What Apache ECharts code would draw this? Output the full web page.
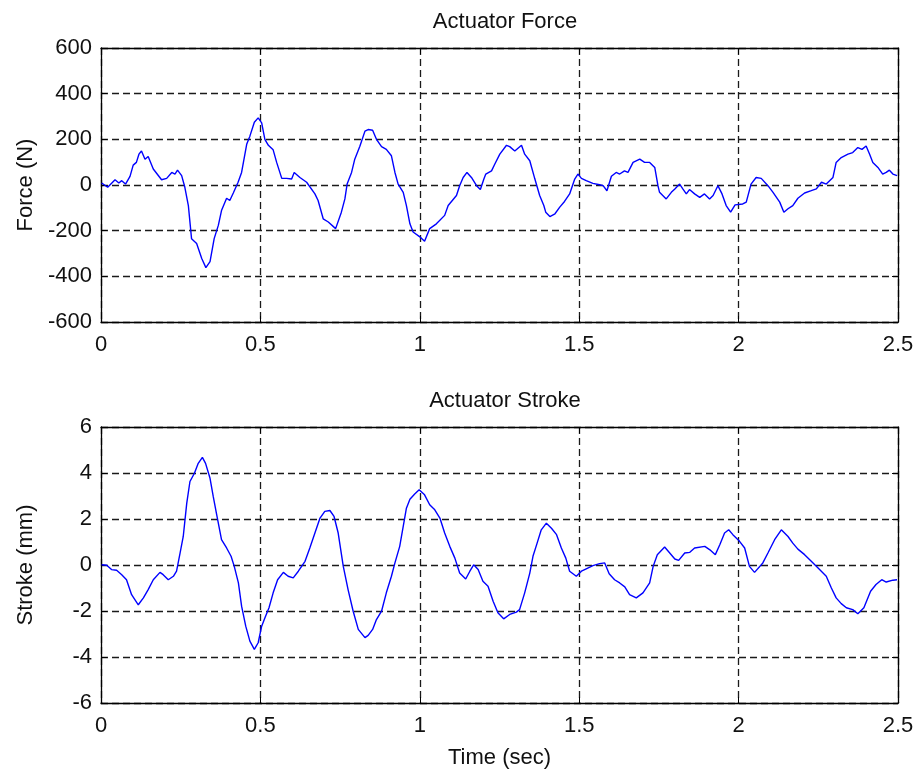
<!DOCTYPE html>
<html>
<head>
<meta charset="utf-8">
<script src="https://cdn.jsdelivr.net/npm/echarts@6/dist/echarts.min.js"></script>
<style>
html,body{margin:0;padding:0;background:#fff;}
#c{width:918px;height:777px;}
</style>
</head>
<body>
<div id="c"></div>
<script>
// ---- Data ----
const xTicks = [0, 0.5, 1, 1.5, 2, 2.5];
const forceTicks = [-600, -400, -200, 0, 200, 400, 600];
const strokeTicks = [-6, -4, -2, 0, 2, 4, 6];

const forceTime = [0.002,0.021,0.044,0.056,0.065,0.077,0.091,0.101,0.111,0.119,0.127,0.138,0.148,0.164,0.190,0.206,0.222,0.232,0.240,0.253,0.263,0.274,0.284,0.300,0.316,0.329,0.342,0.355,0.368,0.378,0.394,0.404,0.415,0.430,0.441,0.457,0.467,0.481,0.493,0.504,0.514,0.525,0.540,0.551,0.567,0.582,0.598,0.606,0.624,0.645,0.671,0.681,0.697,0.713,0.736,0.754,0.765,0.772,0.786,0.796,0.812,0.828,0.838,0.852,0.864,0.880,0.895,0.911,0.922,0.932,0.948,0.958,0.969,0.979,1.000,1.015,1.031,1.052,1.078,1.089,1.115,1.125,1.136,1.148,1.162,1.178,1.190,1.201,1.207,1.225,1.235,1.251,1.272,1.282,1.298,1.319,1.329,1.345,1.361,1.376,1.389,1.395,1.408,1.424,1.439,1.454,1.470,1.486,1.496,1.507,1.522,1.543,1.564,1.575,1.587,1.601,1.616,1.627,1.642,1.653,1.669,1.690,1.705,1.721,1.737,1.747,1.752,1.773,1.789,1.800,1.815,1.825,1.836,1.846,1.862,1.878,1.893,1.909,1.920,1.935,1.948,1.961,1.975,1.989,2.013,2.024,2.039,2.055,2.071,2.092,2.108,2.129,2.142,2.155,2.170,2.186,2.207,2.228,2.244,2.260,2.275,2.296,2.306,2.322,2.343,2.358,2.374,2.387,2.400,2.411,2.421,2.437,2.452,2.463,2.473,2.484,2.497];
const forceVals = [9,-10,23,9,19,4,38,87,99,135,149,113,125,70,23,29,55,48,65,41,-10,-90,-235,-256,-322,-362,-336,-235,-177,-112,-58,-68,-35,12,55,178,214,275,294,272,200,174,154,99,29,29,26,55,33,12,-39,-68,-148,-162,-191,-119,-61,4,55,113,170,236,243,240,200,168,156,128,55,4,-32,-90,-170,-206,-227,-246,-191,-170,-133,-90,-46,-3,33,55,33,-3,-20,26,48,62,91,135,174,168,149,174,135,106,26,-46,-90,-119,-138,-126,-97,-72,-39,26,48,29,19,7,1,-3,-25,38,55,48,62,55,99,113,99,99,77,-3,-32,-61,-32,-17,4,-17,-39,-20,-39,-54,-39,-61,-46,-3,-39,-90,-119,-87,-83,-75,4,33,29,-3,-32,-75,-119,-104,-90,-58,-35,-25,-17,12,4,33,99,120,135,142,164,156,171,135,99,77,48,55,65,48,41];

const strokeTime = [0.002,0.018,0.033,0.049,0.065,0.080,0.096,0.117,0.133,0.148,0.164,0.185,0.195,0.211,0.227,0.237,0.248,0.258,0.269,0.279,0.293,0.305,0.318,0.328,0.342,0.352,0.363,0.378,0.394,0.408,0.418,0.431,0.441,0.454,0.467,0.481,0.493,0.504,0.514,0.527,0.540,0.554,0.572,0.587,0.603,0.619,0.640,0.655,0.671,0.687,0.702,0.718,0.731,0.744,0.760,0.775,0.791,0.807,0.828,0.838,0.852,0.864,0.880,0.895,0.911,0.922,0.937,0.948,0.958,0.969,0.984,0.998,1.015,1.031,1.047,1.063,1.078,1.094,1.110,1.125,1.144,1.157,1.169,1.183,1.198,1.214,1.230,1.245,1.263,1.282,1.303,1.313,1.329,1.345,1.355,1.368,1.381,1.397,1.413,1.429,1.444,1.458,1.470,1.491,1.507,1.522,1.543,1.564,1.580,1.594,1.611,1.627,1.643,1.658,1.679,1.700,1.721,1.732,1.745,1.768,1.784,1.800,1.812,1.831,1.847,1.862,1.894,1.910,1.927,1.941,1.956,1.969,1.982,2.003,2.019,2.034,2.050,2.076,2.092,2.113,2.134,2.155,2.170,2.186,2.207,2.228,2.254,2.275,2.291,2.306,2.322,2.338,2.358,2.374,2.393,2.414,2.431,2.449,2.463,2.484,2.497];
const strokeVals = [0.01,-0.01,-0.2,-0.23,-0.42,-0.64,-1.29,-1.73,-1.43,-1.07,-0.64,-0.32,-0.42,-0.64,-0.49,-0.27,0.52,1.24,2.69,3.63,3.99,4.42,4.68,4.42,3.77,2.98,2.18,1.10,0.74,0.38,-0.06,-0.78,-1.79,-2.66,-3.31,-3.67,-3.38,-2.66,-2.30,-1.86,-1.21,-0.64,-0.32,-0.49,-0.56,-0.27,0.16,0.74,1.39,2.04,2.33,2.37,2.11,1.39,-0.06,-1.07,-2.01,-2.80,-3.16,-3.06,-2.80,-2.37,-2.01,-1.21,-0.49,0.09,0.81,1.68,2.47,2.86,3.09,3.27,3.05,2.62,2.40,2.04,1.39,0.81,0.30,-0.35,-0.61,-0.27,0.01,-0.20,-0.71,-0.92,-1.58,-2.08,-2.34,-2.15,-2.05,-1.94,-1.21,-0.35,0.38,0.95,1.53,1.82,1.60,1.32,0.74,0.30,-0.27,-0.49,-0.27,-0.17,-0.03,0.06,0.09,-0.38,-0.64,-0.78,-0.95,-1.29,-1.43,-1.21,-0.78,-0.06,0.45,0.78,0.52,0.26,0.20,0.52,0.55,0.74,0.81,0.66,0.45,0.88,1.39,1.53,1.32,1.03,0.74,-0.06,-0.32,0.09,0.52,1.10,1.53,1.24,0.95,0.69,0.45,0.16,-0.20,-0.49,-1.00,-1.43,-1.68,-1.86,-1.94,-2.12,-1.86,-1.14,-0.85,-0.64,-0.74,-0.66,-0.64];

const titles = ['Actuator Force', 'Actuator Stroke'];
const yNames = ['Force (N)', 'Stroke (mm)'];
const xName = 'Time (sec)';

// ---- Chart ----
const FONT = "'Liberation Sans', Arial, sans-serif";
const TXT = '#111';
const fs = 22;
const pairs = (t, v) => t.map((x, i) => [x, v[i]]);

const grids = [
  {left: 101, top: 48, width: 797, height: 274},
  {left: 101, top: 427, width: 797, height: 276}
];
const yRanges = [forceTicks, strokeTicks];

const xAxes = [], yAxes = [];
const dashStyle = {color: '#1a1a1a', width: 1.3, type: [7, 4]};
const frame = {color: '#000', width: 1.3};
for (let g = 0; g < 2; g++) {
  const xmin = xTicks[0], xmax = xTicks[xTicks.length - 1];
  const xint = xTicks[1] - xTicks[0];
  xAxes.push({
    type: 'value', gridIndex: g, min: xmin, max: xmax, interval: xint,
    position: 'bottom',
    name: g === 1 ? xName : '', nameLocation: 'middle', nameGap: 44,
    nameTextStyle: {fontFamily: FONT, fontSize: fs, color: TXT},
    axisLine: {show: true, onZero: false, lineStyle: frame},
    axisTick: {show: true, inside: true, length: 6, lineStyle: {color: '#000'}},
    axisLabel: {fontFamily: FONT, fontSize: fs, color: TXT, margin: 12,
      formatter: v => String(v)},
    splitLine: {show: true, lineStyle: dashStyle}
  });
  xAxes.push({
    type: 'value', gridIndex: g, min: xmin, max: xmax, interval: xint,
    position: 'top',
    axisLine: {show: true, onZero: false, lineStyle: frame},
    axisTick: {show: true, inside: true, length: 6, lineStyle: {color: '#000'}},
    axisLabel: {show: false}, splitLine: {show: false}
  });
  const yt = yRanges[g];
  const ymin = yt[0], ymax = yt[yt.length - 1], yint = yt[1] - yt[0];
  yAxes.push({
    type: 'value', gridIndex: g, min: ymin, max: ymax, interval: yint,
    position: 'left',
    name: yNames[g], nameLocation: 'middle', nameGap: 64, nameRotate: 90,
    nameTextStyle: {fontFamily: FONT, fontSize: fs, color: TXT},
    axisLine: {show: true, onZero: false, lineStyle: frame},
    axisTick: {show: true, inside: true, length: 6, lineStyle: {color: '#000'}},
    axisLabel: {fontFamily: FONT, fontSize: fs, color: TXT, margin: 9},
    splitLine: {show: true, lineStyle: dashStyle}
  });
  yAxes.push({
    type: 'value', gridIndex: g, min: ymin, max: ymax, interval: yint,
    position: 'right',
    axisLine: {show: true, onZero: false, lineStyle: frame},
    axisTick: {show: true, inside: true, length: 6, lineStyle: {color: '#000'}},
    axisLabel: {show: false}, splitLine: {show: false}
  });
}

const chart = echarts.init(document.getElementById('c'), null, {renderer: 'canvas'});
chart.setOption({
  backgroundColor: '#ffffff',
  animation: false,
  title: [
    {text: titles[0], left: 500, top: 6, textAlign: 'center',
     textStyle: {fontFamily: FONT, fontSize: fs, fontWeight: 'normal', color: TXT}},
    {text: titles[1], left: 500, top: 385, textAlign: 'center',
     textStyle: {fontFamily: FONT, fontSize: fs, fontWeight: 'normal', color: TXT}}
  ],
  grid: grids,
  xAxis: xAxes,
  yAxis: yAxes,
  series: [
    {type: 'line', xAxisIndex: 0, yAxisIndex: 0, data: pairs(forceTime, forceVals),
     showSymbol: false, lineStyle: {color: '#0000ff', width: 1.4}, z: 5},
    {type: 'line', xAxisIndex: 2, yAxisIndex: 2, data: pairs(strokeTime, strokeVals),
     showSymbol: false, lineStyle: {color: '#0000ff', width: 1.4}, z: 5}
  ]
});
</script>
</body>
</html>
